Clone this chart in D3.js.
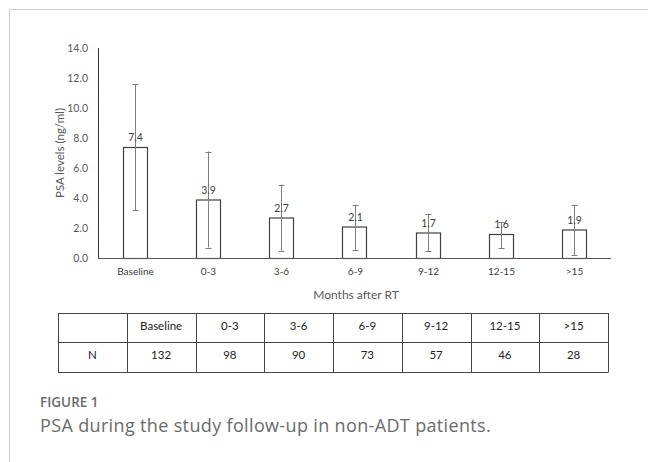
<!DOCTYPE html>
<html><head><meta charset="utf-8">
<script src="https://cdn.jsdelivr.net/npm/d3@7/dist/d3.min.js"></script>
<style>body{margin:0;background:#fff;} svg{display:block;}</style>
</head><body>
<script>
const categories = ["Baseline","0-3","3-6","6-9","9-12","12-15",">15"];
const means = [7.4,3.9,2.7,2.1,1.7,1.6,1.9];
const errLow = [3.2,0.7,0.5,0.55,0.45,0.65,0.2];
const errHigh = [11.6,7.1,4.9,3.55,2.95,2.4,3.55];
const yTicks = [0,2,4,6,8,10,12,14];
const nCounts = [132,98,90,73,57,46,28];

const W=648,H=462;
const FONT="Lato, 'Open Sans', sans-serif";
const svg=d3.select("body").append("svg").attr("width",W).attr("height",H);
svg.append("line").attr("x1",9.5).attr("x2",W).attr("y1",9.5).attr("y2",9.5).attr("stroke","#ccc");
svg.append("line").attr("x1",9.5).attr("x2",9.5).attr("y1",9.5).attr("y2",H).attr("stroke","#ccc");

const x=d3.scaleBand().domain(categories).range([98,611]).paddingInner(0.67).paddingOuter(0.335);
const y=d3.scaleLinear().domain([0,14]).range([258,48]);
const g=svg.append("g");
// y axis
g.append("line").attr("x1",98.5).attr("x2",98.5).attr("y1",y(14)).attr("y2",y(0)).attr("stroke","#333");
g.selectAll(".yt").data(yTicks).enter().append("text")
 .attr("x",88).attr("y",d=>y(d)+3.8).attr("text-anchor","end")
 .attr("font-family",FONT).attr("font-size",10.5).attr("fill","#595959")
 .text(d=>d.toFixed(1));
g.append("text").attr("transform","translate(64,"+153+") rotate(-90)").attr("text-anchor","middle")
 .attr("font-family",FONT).attr("font-size",11.5).attr("fill","#595959").text("PSA levels (ng/ml)");
// bars
g.selectAll(".bar").data(means).enter().append("rect")
 .attr("x",(d,i)=>Math.round(x(categories[i]))+0.5).attr("width",Math.round(x.bandwidth()))
 .attr("y",d=>y(d)+0.5).attr("height",d=>y(0)-y(d))
 .attr("fill","#fff").attr("stroke","#404040").attr("stroke-width",1.2);
// x axis
g.append("line").attr("x1",98).attr("x2",611).attr("y1",258.5).attr("y2",258.5).attr("stroke","#595959").attr("stroke-width",1.2);
// error bars
const cx=i=>Math.round(x(categories[i])+x.bandwidth()/2)+0.5;
categories.forEach((c,i)=>{
  g.append("line").attr("x1",cx(i)).attr("x2",cx(i)).attr("y1",y(errHigh[i])).attr("y2",y(errLow[i])).attr("stroke","#7f7f7f");
  [errHigh[i],errLow[i]].forEach(v=>{
    g.append("line").attr("x1",cx(i)-3).attr("x2",cx(i)+3).attr("y1",Math.round(y(v))+0.5).attr("y2",Math.round(y(v))+0.5).attr("stroke","#7f7f7f");
  });
});
// value labels
g.selectAll(".vl").data(means).enter().append("text")
 .attr("x",(d,i)=>cx(i)).attr("y",d=>y(d)-6).attr("text-anchor","middle")
 .attr("font-family",FONT).attr("font-size",10.5).attr("fill","#404040")
 .text(d=>d.toFixed(1));
// category labels
g.selectAll(".cl").data(categories).enter().append("text")
 .attr("x",(d,i)=>cx(i)).attr("y",275).attr("text-anchor","middle")
 .attr("font-family",FONT).attr("font-size",10).attr("fill","#404040").text(d=>d);
g.append("text").attr("x",356).attr("y",299).attr("text-anchor","middle")
 .attr("font-family",FONT).attr("font-size",12).attr("fill","#595959").text("Months after RT");

// table
const tcols=["",...categories];
const tx=d3.scaleBand().domain(d3.range(8)).range([58,608]);
const rows=[tcols,["N",...nCounts.map(String)]];
const ty=[313,342,372];
const t=svg.append("g");
rows.forEach((r,ri)=>{
  r.forEach((v,ci)=>{
    t.append("text").attr("x",tx(ci)+tx.bandwidth()/2).attr("y",(ty[ri]+ty[ri+1])/2+2)
     .attr("text-anchor","middle").attr("font-family",FONT).attr("font-size",11.5).attr("fill","#222").text(v);
  });
});
ty.forEach(v=>t.append("line").attr("x1",58).attr("x2",608).attr("y1",v+0.5).attr("y2",v+0.5).attr("stroke","#444"));
d3.range(9).forEach(i=>{const xx=i<8?tx(i):608; t.append("line").attr("x1",Math.round(xx)+0.5).attr("x2",Math.round(xx)+0.5).attr("y1",313).attr("y2",372.5).attr("stroke","#444");});

// caption
svg.append("text").attr("x",40).attr("y",407).attr("font-family","'Open Sans', sans-serif").attr("font-size",13.5).attr("font-weight",600).attr("fill","#6b6b6b").text("FIGURE 1");
svg.append("text").attr("x",40).attr("y",432).attr("font-family","'Open Sans', sans-serif").attr("font-size",18).attr("letter-spacing",0.35).attr("fill","#6b6b6b").text("PSA during the study follow-up in non-ADT patients.");
</script>
</body></html>
